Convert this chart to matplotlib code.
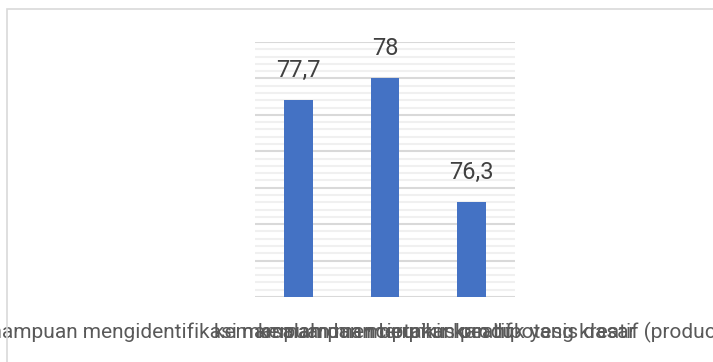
import matplotlib.pyplot as plt
from matplotlib.patches import Rectangle
from matplotlib.ticker import MultipleLocator

categories = [
    "kemampuan mengidentifikasi masalah dan merumuskan hipotesis dasar",
    "kemampuan berpikir kreatif",
    "kemampuan menciptakan produk yang kreatif (product)",
]
values = [77.7, 78, 76.3]
value_labels = ["77,7", "78", "76,3"]

plt.rcParams["font.family"] = ["Roboto", "DejaVu Sans"]

fig = plt.figure(figsize=(7.13, 3.62), dpi=100)
fig.patches.append(Rectangle((7 / 713, -0.1), 1.2, 1 - 9 / 362 + 0.1, transform=fig.transFigure,
                             fill=False, edgecolor="#d9d9d9", linewidth=1.2))

ax = fig.add_axes([255 / 713, 65 / 362, 260 / 713, 255 / 362])
x = range(len(values))
ax.bar(x, values, width=0.33, color="#4472c4", zorder=3)
ax.set_ylim(75, 78.5)
ax.set_xlim(-0.5, 2.5)

ax.yaxis.set_major_locator(MultipleLocator(0.5))
ax.yaxis.set_minor_locator(MultipleLocator(0.1))
ax.grid(which="major", axis="y", color="#d9d9d9", linewidth=1.5, zorder=0)
ax.grid(which="minor", axis="y", color="#f0f0f0", linewidth=1.5, zorder=0)
ax.tick_params(axis="y", which="both", left=False, labelleft=False)
ax.tick_params(axis="x", length=0, pad=18, labelsize=15, labelcolor="#595959")
ax.set_xticks(list(x))
ax.set_xticklabels(categories)
for s in ax.spines.values():
    s.set_visible(False)

for i, v in enumerate(values):
    ax.annotate(value_labels[i], (i, v), xytext=(0, 13), textcoords="offset points",
                ha="center", va="bottom", fontsize=17, color="#404040")

fig.savefig("out.png", dpi=100)
